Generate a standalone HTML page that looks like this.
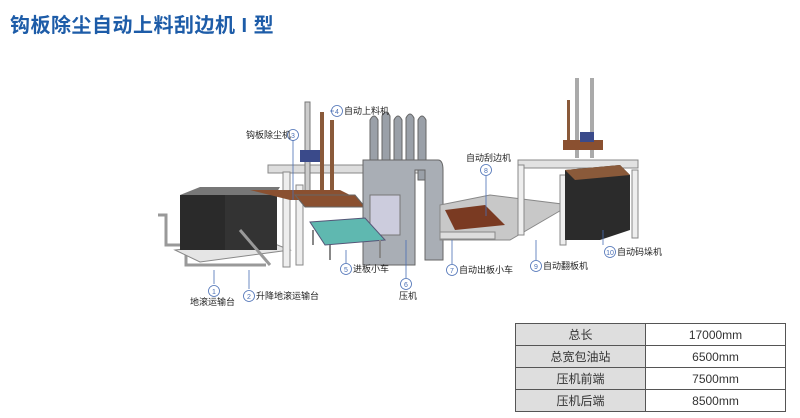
<!DOCTYPE html>
<html><head><meta charset="utf-8"><style>
body{margin:0;width:800px;height:418px;background:#fff;overflow:hidden;position:relative;font-family:"Liberation Sans","Noto Sans CJK SC",sans-serif}
.t{position:absolute;left:10px;top:9px;font-size:20px;font-weight:bold;color:#1d5ca8;letter-spacing:0.5px}
table{position:absolute;left:515px;top:323px;width:271px;border-collapse:collapse;font-size:12px;color:#333}
td{border:1px solid #555;height:21px;text-align:center;padding:0}
td.a{background:#dedede;width:129px}
svg{position:absolute;left:0;top:0}
</style></head><body>
<div class="t">钩板除尘自动上料刮边机 I 型</div>
<svg width="800" height="418" font-family="Liberation Sans,Noto Sans CJK SC,sans-serif" font-size="9" fill="#222">
<path d="M158 215 h8 v30 h20 v20 h80" stroke="#999" stroke-width="3" fill="none"/>
<path d="M175 250 l90 -10 l25 10 l-90 12 z" fill="#e5e5e5" stroke="#888"/>
<rect x="180" y="195" width="45" height="55" fill="#2a2a2a"/>
<rect x="225" y="195" width="52" height="55" fill="#333"/>
<path d="M180 195 l20 -8 h80 l-5 8 z" fill="#777"/>
<path d="M240 230 l30 35" stroke="#999" stroke-width="3"/>
<rect x="268" y="165" width="160" height="8" fill="#ddd" stroke="#888"/>
<rect x="283" y="172" width="7" height="95" fill="#eee" stroke="#888"/>
<rect x="296" y="185" width="7" height="80" fill="#eee" stroke="#888"/>
<rect x="305" y="102" width="5" height="95" fill="#ccc" stroke="#777"/>
<rect x="320" y="112" width="4" height="85" fill="#8a5a3a"/>
<rect x="330" y="120" width="4" height="70" fill="#8a5a3a"/>
<path d="M250 190 l40 10 h70 l-20 -10 z" fill="#8a5030"/>
<path d="M295 195 h60 l10 12 h-60 z" fill="#8a5030" stroke="#666"/>
<rect x="300" y="150" width="20" height="12" fill="#3a4a8a"/>
<path d="M370 120 q4 -8 8 0 v60 h-8z M382 116 q4 -8 8 0 v60 h-8z M394 120 q4 -8 8 0 v60 h-8z M406 118 q4 -8 8 0 v60 h-8z M418 120 q4 -8 8 0 v60 h-8z" fill="#9aa0a8" stroke="#666"/>
<path d="M363 160 h75 q5 0 5 10 v90 h-18 v-90 h-10 v95 h-52 z" fill="#a9aeb5" stroke="#666"/>
<rect x="370" y="195" width="30" height="40" fill="#ccd" stroke="#777"/>
<path d="M310 222 l55 -4 l20 22 l-60 5 z" fill="#5fb8b0" stroke="#557"/>
<path d="M313 230 v15 M380 240 v18 M330 245 v15" stroke="#888" stroke-width="2"/>
<path d="M440 205 l50 -10 l80 10 l-60 35 h-70 z" fill="#c8c8c8" stroke="#888"/>
<path d="M445 210 l40 -5 l20 20 l-50 5 z" fill="#7a3a22"/>
<rect x="440" y="232" width="55" height="7" fill="#ddd" stroke="#888"/>
<rect x="518" y="160" width="120" height="8" fill="#e2e2e2" stroke="#888"/>
<rect x="518" y="165" width="6" height="70" fill="#eee" stroke="#888"/>
<rect x="560" y="175" width="6" height="70" fill="#eee" stroke="#888"/>
<rect x="632" y="170" width="6" height="68" fill="#eee" stroke="#888"/>
<rect x="575" y="78" width="4" height="80" fill="#aaa"/>
<rect x="590" y="78" width="4" height="80" fill="#aaa"/>
<rect x="567" y="100" width="3" height="50" fill="#8a5a3a"/>
<path d="M563 140 h40 v10 h-40z" fill="#8a5030"/>
<rect x="580" y="132" width="14" height="10" fill="#3a4a8a"/>
<path d="M565 170 l55 -5 l10 10 v55 l-30 10 h-35 z" fill="#2b2b2b"/>
<path d="M565 170 l55 -5 l10 10 l-55 5 z" fill="#8a5a3a"/>
<g stroke="#4a6fb5" stroke-width="0.8" fill="none">
<path d="M214 270 v14 M249 270 v19 M293 140 v60 M330 111 h4 M346 250 v13 M406 240 v38 M452 240 v24 M486 176 v40 M536 240 v20 M603 230 v15"/>
<circle cx="214" cy="291" r="5.5"/><circle cx="249" cy="296" r="5.5"/><circle cx="293" cy="135" r="5.5"/><circle cx="337" cy="111" r="5.5"/><circle cx="346" cy="269" r="5.5"/><circle cx="406" cy="284" r="5.5"/><circle cx="452" cy="270" r="5.5"/><circle cx="486" cy="170" r="5.5"/><circle cx="536" cy="266" r="5.5"/><circle cx="610" cy="252" r="5.5"/>
</g>
<g fill="#4a6fb5" font-size="7" text-anchor="middle">
<text x="214" y="294">1</text><text x="249" y="299">2</text><text x="293" y="138">3</text><text x="337" y="114">4</text><text x="346" y="272">5</text><text x="406" y="287">6</text><text x="452" y="273">7</text><text x="486" y="173">8</text><text x="536" y="269">9</text><text x="610" y="255">10</text>
</g>
<text x="190" y="305">地滚运输台</text>
<text x="256" y="299">升降地滚运输台</text>
<text x="246" y="138">钩板除尘机</text>
<text x="344" y="114">自动上料机</text>
<text x="353" y="272">进板小车</text>
<text x="399" y="299">压机</text>
<text x="459" y="273">自动出板小车</text>
<text x="466" y="161">自动刮边机</text>
<text x="543" y="269">自动翻板机</text>
<text x="617" y="255">自动码垛机</text>
</svg>
<table>
<tr><td class="a">总长</td><td>17000mm</td></tr>
<tr><td class="a">总宽包油站</td><td>6500mm</td></tr>
<tr><td class="a">压机前端</td><td>7500mm</td></tr>
<tr><td class="a">压机后端</td><td>8500mm</td></tr>
</table>
</body></html>
